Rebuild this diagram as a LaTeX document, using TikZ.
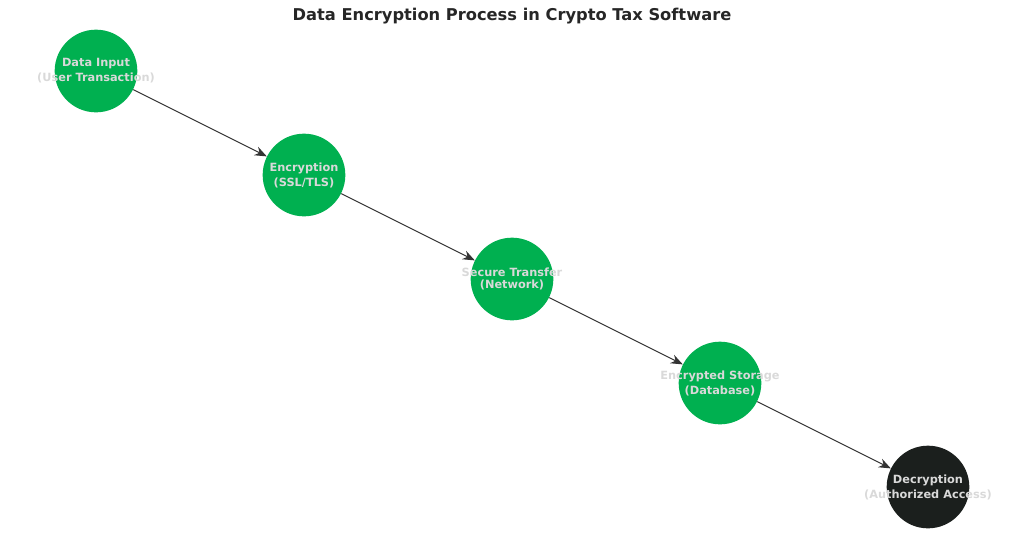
\documentclass[tikz,border=0pt]{standalone}
\usepackage{fontspec}
\setmainfont{DejaVu Sans}
\usetikzlibrary{arrows.meta}
\definecolor{stepgreen}{HTML}{00B050}
\definecolor{stepdark}{HTML}{1B1F1D}
\definecolor{steptext}{HTML}{D9D9D9}
\newcommand{\stagetext}[2]{\makebox[0pt]{\shortstack{#1\\#2}}}
\tikzset{
    stage/.style={circle,fill=stepgreen,minimum size=62pt,inner sep=0pt,
        text=steptext,font=\bfseries\fontsize{8.5}{9.5}\selectfont},
    flow/.style={-{Stealth[length=9pt,width=7pt]},draw=black!80,thick}
}
\begin{document}
\begin{tikzpicture}[x=0.75pt,y=-0.75pt]
    \useasboundingbox (0,0) rectangle (1024,540);
    % Title
    \node[text=black!85] (title) at (512,16) {\bfseries\fontsize{12.2}{14}\selectfont Data Encryption Process in Crypto Tax Software};

    \node[stage] (input) at (96,71) {\stagetext{Data Input}{(User Transaction)}};
    \node[stage] (encrypt) at (304,175) {\stagetext{Encryption}{(SSL/TLS)}};
    \node[stage] (transfer) at (512,279) {\stagetext{Secure Transfer}{(Network)}};
    \node[stage] (storage) at (720,383) {\stagetext{Encrypted Storage}{(Database)}};
    \node[stage,fill=stepdark] (decrypt) at (928,487) {\stagetext{Decryption}{(Authorized Access)}};

    \draw[flow] (input) -- (encrypt);
    \draw[flow] (encrypt) -- (transfer);
    \draw[flow] (transfer) -- (storage);
    \draw[flow] (storage) -- (decrypt);
\end{tikzpicture}
\end{document}
